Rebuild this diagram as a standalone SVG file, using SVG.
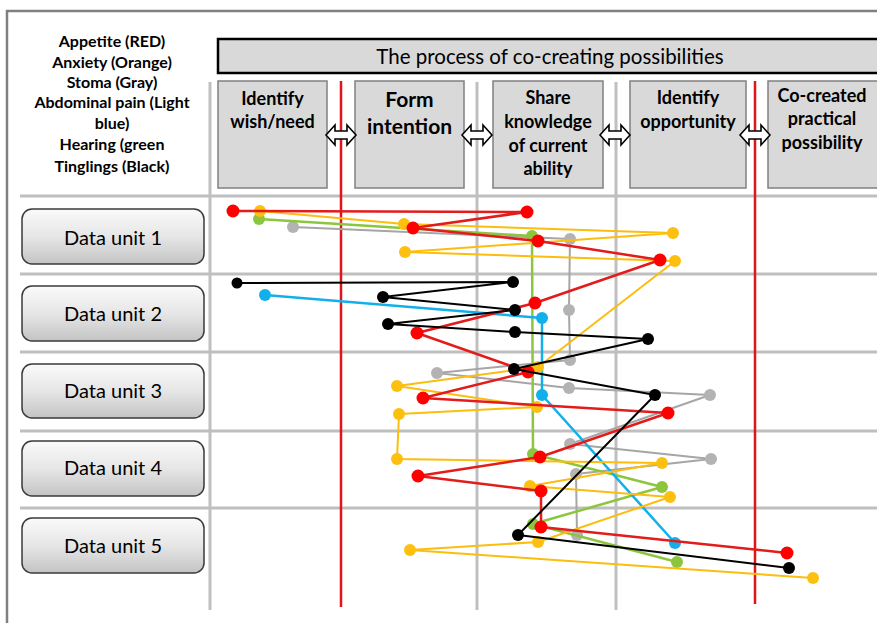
<svg xmlns="http://www.w3.org/2000/svg" width="877" height="623" viewBox="0 0 877 623">
<defs>
<linearGradient id="btn" x1="0" y1="0" x2="0" y2="1">
<stop offset="0" stop-color="#fafafa"/>
<stop offset="0.5" stop-color="#e6e6e6"/>
<stop offset="1" stop-color="#c4c4c4"/>
</linearGradient>
<path id="dbl" d="M-15,0 L-6,-10 L-6,-4 L6,-4 L6,-10 L15,0 L6,10 L6,4 L-6,4 L-6,10 Z"/>
</defs>
<style>
text{font-family:Lato,"Open Sans","Liberation Sans",sans-serif;fill:#000}
.leg{font-size:16px;font-weight:bold;text-anchor:middle}
.hb{fill:#d9d9d9;stroke:#808080;stroke-width:1.5}
.ht{font-size:18px;font-weight:bold;text-anchor:middle}
.big{font-size:21px}
.du{fill:url(#btn);stroke:#3a3a3a;stroke-width:1.5}
.dt{font-size:20px;text-anchor:middle}
.grid{stroke:#bfbfbf;stroke-width:3;fill:none}
.rl{stroke:#e0141b;stroke-width:2.5;fill:none}
.arr{fill:#fff;stroke:#000;stroke-width:1.6;stroke-linejoin:miter}
.s{fill:none;stroke-linejoin:round}
</style>
<rect x="0" y="0" width="877" height="623" fill="#fff"/>
<path d="M7,623 V11 H877" fill="none" stroke="#808080" stroke-width="2.5"/>

<g id="legend">
<text class="leg" x="112" y="47">Appetite (RED)</text>
<text class="leg" x="112" y="68">Anxiety (Orange)</text>
<text class="leg" x="112" y="88">Stoma (Gray)</text>
<text class="leg" x="112" y="108">Abdominal pain (Light</text>
<text class="leg" x="112" y="129">blue)</text>
<text class="leg" x="112" y="150">Hearing (green</text>
<text class="leg" x="112" y="172">Tinglings (Black)</text>
</g>

<g id="grid">
<line class="grid" x1="20" y1="196" x2="877" y2="196"/>
<line class="grid" x1="20" y1="274" x2="877" y2="274"/>
<line class="grid" x1="20" y1="352" x2="877" y2="352"/>
<line class="grid" x1="20" y1="431" x2="877" y2="431"/>
<line class="grid" x1="20" y1="508" x2="877" y2="508"/>
<line class="grid" x1="210" y1="82" x2="210" y2="610"/>
<line class="grid" x1="477" y1="82" x2="477" y2="610"/>
<line class="grid" x1="616" y1="82" x2="616" y2="610"/>
<line class="rl" x1="341" y1="81" x2="341" y2="607"/>
<line class="rl" x1="755" y1="81" x2="755" y2="604"/>
</g>

<g id="title">
<rect x="218" y="39" width="670" height="34" fill="#d9d9d9" stroke="#000" stroke-width="2.5"/>
<text x="550" y="64" font-size="20.5" text-anchor="middle">The process of co-creating possibilities</text>
</g>

<g id="step1">
<rect class="hb" x="218" y="81" width="109" height="107"/>
<text class="ht" x="272.5" y="105">Identify</text>
<text class="ht" x="272.5" y="128">wish/need</text>
</g>
<g id="step2">
<rect class="hb" x="355" y="81" width="109" height="107"/>
<text class="ht big" x="409.5" y="107">Form</text>
<text class="ht big" x="409.5" y="134">intention</text>
</g>
<g id="step3">
<rect class="hb" x="493" y="81" width="110" height="107"/>
<text class="ht" x="548" y="104">Share</text>
<text class="ht" x="548" y="128">knowledge</text>
<text class="ht" x="548" y="152">of current</text>
<text class="ht" x="548" y="175">ability</text>
</g>
<g id="step4">
<rect class="hb" x="630" y="81" width="116" height="107"/>
<text class="ht" x="688" y="104">Identify</text>
<text class="ht" x="688" y="128">opportunity</text>
</g>
<g id="step5">
<rect class="hb" x="768" y="81" width="120" height="107"/>
<text class="ht" x="822" y="102">Co-created</text>
<text class="ht" x="822" y="125">practical</text>
<text class="ht" x="822" y="149">possibility</text>
</g>

<g id="connectors">
<use href="#dbl" class="arr" x="341" y="135"/>
<use href="#dbl" class="arr" x="477" y="135"/>
<use href="#dbl" class="arr" x="615" y="135"/>
<use href="#dbl" class="arr" x="755" y="135"/>
</g>

<g id="unit1"><rect class="du" x="22" y="209" width="182" height="55" rx="10"/><text class="dt" x="113" y="245">Data unit 1</text></g>
<g id="unit2"><rect class="du" x="22" y="286" width="182" height="55" rx="10"/><text class="dt" x="113" y="321">Data unit 2</text></g>
<g id="unit3"><rect class="du" x="22" y="364" width="182" height="54" rx="10"/><text class="dt" x="113" y="398">Data unit 3</text></g>
<g id="unit4"><rect class="du" x="22" y="441" width="182" height="55" rx="10"/><text class="dt" x="113" y="475">Data unit 4</text></g>
<g id="unit5"><rect class="du" x="22" y="518" width="182" height="55" rx="10"/><text class="dt" x="113" y="553">Data unit 5</text></g>

<g id="series">
<g id="stoma" stroke="#a6a6a6" fill="#b3b3b3">
<polyline class="s" stroke-width="2" points="293,227 570,239 569,310 570,360 437,373 569,388 710,395 570,444 711,459 576,474 577,535"/>
<g stroke="none"><circle cx="293" cy="227" r="6"/><circle cx="570" cy="239" r="6"/><circle cx="569" cy="310" r="6"/><circle cx="570" cy="360" r="6"/><circle cx="437" cy="373" r="6"/><circle cx="569" cy="388" r="6"/><circle cx="710" cy="395" r="6"/><circle cx="570" cy="444" r="6"/><circle cx="711" cy="459" r="6"/><circle cx="576" cy="474" r="6"/><circle cx="577" cy="535" r="6"/></g>
</g>
<g id="hearing" stroke="#8cc63f" fill="#8cc63f">
<polyline class="s" stroke-width="2.5" points="259,219 532,236 533,454 662,487 533,524 677,562"/>
<g stroke="none"><circle cx="259" cy="219" r="6"/><circle cx="532" cy="236" r="6"/><circle cx="533" cy="454" r="6"/><circle cx="662" cy="487" r="6"/><circle cx="533" cy="524" r="6"/><circle cx="677" cy="562" r="6"/></g>
</g>
<g id="pain" stroke="#12b0ea" fill="#12b0ea">
<polyline class="s" stroke-width="2.5" points="265,295 542,318 542,395 675,543"/>
<g stroke="none"><circle cx="265" cy="295" r="6"/><circle cx="542" cy="318" r="6"/><circle cx="542" cy="395" r="6"/><circle cx="675" cy="543" r="6"/></g>
</g>
<g id="anxiety" stroke="#fbbd0e" fill="#fdc010">
<polyline class="s" stroke-width="2" points="260,211 404,224 673,233 405,252 675,261 538,367 397,386 537,407 399,414 397,459 662,463 530,486 670,497 538,542 410,550 813,578"/>
<g stroke="none"><circle cx="260" cy="211" r="6"/><circle cx="404" cy="224" r="6"/><circle cx="673" cy="233" r="6"/><circle cx="405" cy="252" r="6"/><circle cx="675" cy="261" r="6"/><circle cx="538" cy="367" r="6"/><circle cx="397" cy="386" r="6"/><circle cx="537" cy="407" r="6"/><circle cx="399" cy="414" r="6"/><circle cx="397" cy="459" r="6"/><circle cx="662" cy="463" r="6"/><circle cx="530" cy="486" r="6"/><circle cx="670" cy="497" r="6"/><circle cx="538" cy="542" r="6"/><circle cx="410" cy="550" r="6"/><circle cx="813" cy="578" r="6"/></g>
</g>
<g id="appetite" stroke="#e31b1b" fill="#ff0000">
<polyline class="s" stroke-width="2.5" points="233,211 527,212 413,228 538,241 660,260 535,303 417,333 528,372 423,398 668,413 540,457 418,476 541,491 541,527 787,553"/>
<g stroke="none"><circle cx="233" cy="211" r="6.5"/><circle cx="527" cy="212" r="6.5"/><circle cx="413" cy="228" r="6.5"/><circle cx="538" cy="241" r="6.5"/><circle cx="660" cy="260" r="6.5"/><circle cx="535" cy="303" r="6.5"/><circle cx="417" cy="333" r="6.5"/><circle cx="528" cy="372" r="6.5"/><circle cx="423" cy="398" r="6.5"/><circle cx="668" cy="413" r="6.5"/><circle cx="540" cy="457" r="6.5"/><circle cx="418" cy="476" r="6.5"/><circle cx="541" cy="491" r="6.5"/><circle cx="541" cy="527" r="6.5"/><circle cx="787" cy="553" r="6.5"/></g>
</g>
<g id="tinglings" stroke="#000" fill="#000">
<polyline class="s" stroke-width="2" points="237,283 513,282 383,297 515,310 388,324 515,332 648,339 514,369 655,395 518,535 789,568"/>
<g stroke="none"><circle cx="237" cy="283" r="5.5"/><circle cx="513" cy="282" r="6"/><circle cx="383" cy="297" r="6"/><circle cx="515" cy="310" r="6"/><circle cx="388" cy="324" r="6"/><circle cx="515" cy="332" r="6"/><circle cx="648" cy="339" r="6"/><circle cx="514" cy="369" r="6"/><circle cx="655" cy="395" r="6"/><circle cx="518" cy="535" r="6"/><circle cx="789" cy="568" r="6"/></g>
</g>
</g>
</svg>
